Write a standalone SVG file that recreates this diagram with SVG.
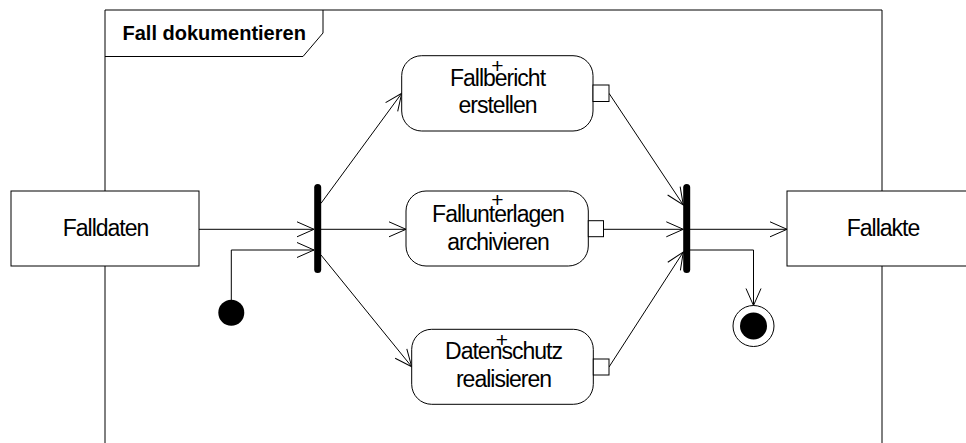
<svg xmlns="http://www.w3.org/2000/svg" width="966" height="443" viewBox="0 0 966 443">
<style>
  .shape { fill: #fff; stroke: #000; stroke-width: 1; }
  .pin { fill: #fff; stroke: #000; stroke-width: 1; }
  .bar { fill: #000; }
  .conn { fill: none; stroke: #000; stroke-width: 1; }
  .frame { fill: none; stroke: #000; stroke-width: 1; }
  text { font-family: "Liberation Sans", Arial, sans-serif; fill: #000; }
  .lbl { font-size: 23px; letter-spacing: -1px; text-anchor: middle; }
  .plus { font-size: 21px; text-anchor: middle; }
  .title { font-size: 20px; font-weight: bold; }
</style>
<defs>
  <marker id="arr" markerUnits="userSpaceOnUse" markerWidth="20" markerHeight="18" refX="17" refY="8" orient="auto" overflow="visible">
    <path d="M0,0.5 L17,8 L0,15.5" fill="none" stroke="#000" stroke-width="1"/>
  </marker>
</defs>
<rect width="966" height="443" fill="#fff"/>

<g id="frame">
  <path class="frame" d="M105,443 V10 H882 V443"/>
  <path class="frame" d="M105,56.5 H303 L323,33 V10"/>
  <text class="title" x="122.5" y="40">Fall dokumentieren</text>
</g>

<g id="connectors">
  <line class="conn" x1="199" y1="229.3" x2="314" y2="229.3" marker-end="url(#arr)"/>
  <path class="conn" d="M231.3,300 V250 H314" marker-end="url(#arr)"/>
  <line class="conn" x1="321" y1="203.3" x2="401.7" y2="93.3" marker-end="url(#arr)"/>
  <line class="conn" x1="321" y1="229.3" x2="406" y2="229.3" marker-end="url(#arr)"/>
  <line class="conn" x1="321" y1="255" x2="411.7" y2="366.7" marker-end="url(#arr)"/>
  <line class="conn" x1="609" y1="93.3" x2="683.3" y2="205" marker-end="url(#arr)"/>
  <line class="conn" x1="603.5" y1="229.3" x2="683.3" y2="229.3" marker-end="url(#arr)"/>
  <line class="conn" x1="609" y1="367" x2="683.3" y2="252" marker-end="url(#arr)"/>
  <line class="conn" x1="690" y1="229.3" x2="787" y2="229.3" marker-end="url(#arr)"/>
  <path class="conn" d="M690,250 H753.5 V305.5" marker-end="url(#arr)"/>
</g>

<g id="falldaten">
  <rect class="shape" x="11" y="191" width="188" height="75"/>
  <text class="lbl" x="105.5" y="236">Falldaten</text>
</g>

<g id="fallakte">
  <rect class="shape" x="787" y="191" width="190" height="75"/>
  <text class="lbl" x="883" y="236">Fallakte</text>
</g>

<g id="start">
  <circle cx="231.3" cy="312.7" r="13" fill="#000"/>
</g>

<g id="fork1">
  <rect class="bar" x="314.2" y="184" width="7" height="89" rx="3.5"/>
</g>

<g id="join">
  <rect class="bar" x="683.2" y="184" width="7" height="89" rx="3.5"/>
</g>

<g id="end">
  <circle cx="753.5" cy="326" r="20.5" fill="#fff" stroke="#000" stroke-width="1"/>
  <circle cx="753.5" cy="326" r="13.5" fill="#000"/>
</g>

<g id="fallbericht">
  <rect class="shape" x="401.7" y="55.7" width="191.3" height="75.3" rx="20"/>
  <rect class="pin" x="593" y="85" width="16" height="16.5"/>
  <text class="plus" x="497.5" y="73">+</text>
  <text class="lbl" x="497.5" y="85.7">Fallbericht</text>
  <text class="lbl" x="497.5" y="113.3">erstellen</text>
</g>

<g id="fallunterlagen">
  <rect class="shape" x="406" y="191" width="182.3" height="75" rx="20"/>
  <rect class="pin" x="588.3" y="220.7" width="15.2" height="16"/>
  <text class="plus" x="497.3" y="206.7">+</text>
  <text class="lbl" x="498" y="221.7">Fallunterlagen</text>
  <text class="lbl" x="498" y="250">archivieren</text>
</g>

<g id="datenschutz">
  <rect class="shape" x="411.7" y="329.3" width="181.6" height="75" rx="20"/>
  <rect class="pin" x="593.3" y="359" width="15.7" height="16"/>
  <text class="plus" x="502" y="347.4">+</text>
  <text class="lbl" x="503.5" y="359">Datenschutz</text>
  <text class="lbl" x="503.5" y="386.7">realisieren</text>
</g>
</svg>
